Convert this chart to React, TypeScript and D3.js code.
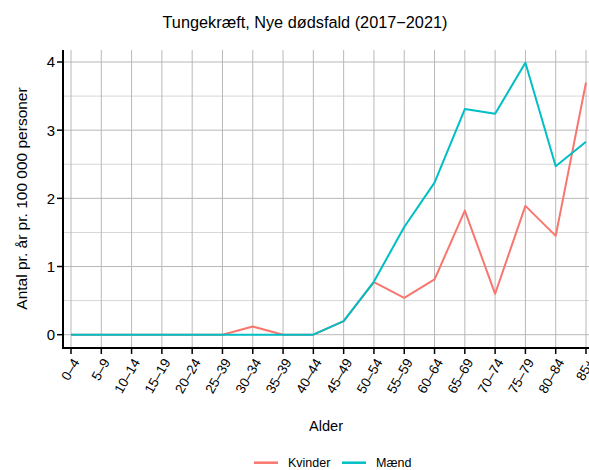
import * as d3 from "d3";

const ageGroups = [
  "0–4", "5–9", "10–14", "15–19", "20–24", "25–39", "30–34", "35–39", "40–44",
  "45–49", "50–54", "55–59", "60–64", "65–69", "70–74", "75–79", "80–84", "85+",
];
const kvinder = [0, 0, 0, 0, 0, 0, 0.12, 0, 0, 0.2, 0.77, 0.54, 0.81, 1.82, 0.6, 1.89, 1.45, 3.7];
const maend = [0, 0, 0, 0, 0, 0, 0, 0, 0, 0.2, 0.78, 1.58, 2.23, 3.31, 3.24, 3.99, 2.47, 2.83];
const yTicks = [0, 1, 2, 3, 4];
const yMinor = [0.5, 1.5, 2.5, 3.5];

const series = [
  { name: "Kvinder", values: kvinder, color: "#F8766D" },
  { name: "Mænd", values: maend, color: "#00BFC4" },
];

export default function App() {
  const width = 589;
  const height = 470;
  const left = 63;
  const right = 600;
  const top = 50;
  const bottom = 348;
  const font = "Liberation Sans, Arial, sans-serif";

  const x = d3.scalePoint<string>().domain(ageGroups).range([71, 586]);
  const y = d3.scaleLinear().domain([0, 4]).range([334.7, 62]);

  const lineGen = (vals: number[]) =>
    d3
      .line<number>()
      .x((_, i) => x(ageGroups[i]) as number)
      .y((d) => y(d))(vals) ?? "";

  return (
    <svg
      width={width}
      height={height}
      style={{ position: "absolute", left: 0, top: 0, background: "#fff" }}
      fontFamily={font}
    >
      <defs>
        <clipPath id="panel">
          <rect x={left} y={top} width={right - left} height={bottom - top} />
        </clipPath>
      </defs>
      <text x={305} y={27.5} textAnchor="middle" fontSize={16.3} fill="#000">
        Tungekræft, Nye dødsfald (2017−2021)
      </text>

      <g clipPath="url(#panel)">
        {yMinor.map((t) => (
          <line key={"m" + t} x1={left} x2={right} y1={y(t)} y2={y(t)} stroke="#d6d6d6" strokeWidth={1} />
        ))}
        {yTicks.map((t) => (
          <line key={"g" + t} x1={left} x2={right} y1={y(t)} y2={y(t)} stroke="#b8b8b8" strokeWidth={1} />
        ))}
        {ageGroups.map((g) => (
          <line key={"v" + g} x1={x(g)} x2={x(g)} y1={top} y2={bottom} stroke="#b8b8b8" strokeWidth={1} />
        ))}
        {series.map((s) => (
          <path key={s.name} d={lineGen(s.values)} fill="none" stroke={s.color} strokeWidth={2} strokeLinejoin="round" />
        ))}
      </g>

      <line x1={left} x2={left} y1={top} y2={bottom + 1} stroke="#000" strokeWidth={2} />
      <line x1={left - 1} x2={right} y1={bottom} y2={bottom} stroke="#000" strokeWidth={2} />

      {yTicks.map((t) => (
        <g key={"yt" + t}>
          <line x1={left - 6} x2={left} y1={y(t)} y2={y(t)} stroke="#000" strokeWidth={1.5} />
          <text x={left - 8} y={y(t)} dy="0.36em" textAnchor="end" fontSize={15} fill="#000">
            {t}
          </text>
        </g>
      ))}

      {ageGroups.map((g) => {
        const px = x(g) as number;
        return (
          <g key={"xt" + g}>
            <line x1={px} x2={px} y1={bottom} y2={bottom + 6} stroke="#000" strokeWidth={1.5} />
            <text
              transform={`translate(${px + 9},${bottom + 14}) rotate(-60)`}
              textAnchor="end"
              fontSize={13.5}
              fill="#000"
            >
              {g}
            </text>
          </g>
        );
      })}

      <text x={326} y={431} textAnchor="middle" fontSize={14.6} fill="#000">
        Alder
      </text>
      <text
        transform={`translate(26.7,198.5) rotate(-90)`}
        textAnchor="middle"
        fontSize={15.5}
        fill="#000"
      >
        Antal pr. år pr. 100 000 personer
      </text>

      <g>
        <line x1={254} x2={278} y1={462.7} y2={462.7} stroke="#F8766D" strokeWidth={2.5} />
        <text x={288} y={467} fontSize={12.5} fill="#000">Kvinder</text>
        <line x1={342} x2={366} y1={462.7} y2={462.7} stroke="#00BFC4" strokeWidth={2.5} />
        <text x={376} y={467} fontSize={12.5} fill="#000">Mænd</text>
      </g>
    </svg>
  );
}
